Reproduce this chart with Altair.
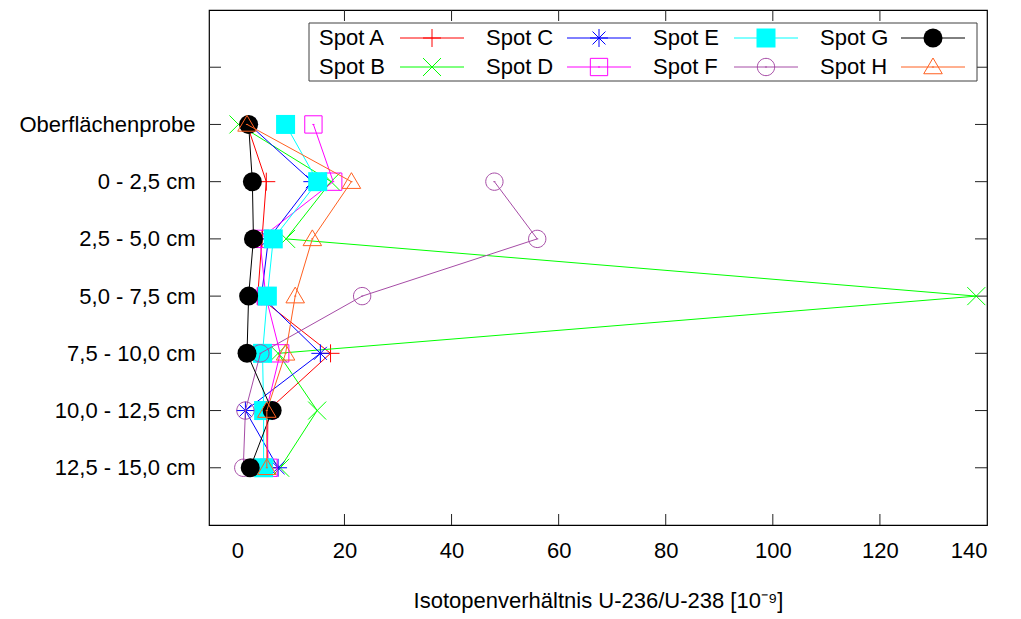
import json

import altair as alt
import pandas as pd

# Sampling depths, top to bottom
depths = [
    "Oberflächenprobe",
    "0 - 2,5 cm",
    "2,5 - 5,0 cm",
    "5,0 - 7,5 cm",
    "7,5 - 10,0 cm",
    "10,0 - 12,5 cm",
    "12,5 - 15,0 cm",
]

spot_names = ["Spot A", "Spot B", "Spot C", "Spot D", "Spot E", "Spot F", "Spot G", "Spot H"]

# U-236/U-238 ratio [1e-9] per depth (None = no sample)
spot_a = [1.8, 5.4, 4.6, 3.8, 17.4, 5.7, 5.6]
spot_b = [0.2, 17.5, 9.1, 138.0, 7.6, 14.9, 8.0]
spot_c = [2.2, 14.0, 5.8, 4.5, 15.5, 1.5, 7.6]
spot_d = [14.2, 17.9, 4.2, 5.3, 8.0, 5.4, 5.8]
spot_e = [9.0, 15.0, 6.7, 5.6, 4.7, 4.9, 4.9]
spot_f = [None, 48.0, 56.0, 23.3, 4.3, 1.5, 1.1]
spot_g = [2.1, 2.8, 3.0, 2.1, 1.8, 6.5, 2.4]
spot_h = [1.8, 21.3, 14.0, 10.8, 9.0, 5.5, 5.5]

x_labels = [0, 20, 40, 60, 80, 100, 120, 140]
x_minor = [20, 40, 60, 80, 100, 120]
y_ticks = [1, 2, 3, 4, 5, 6, 7, 8]

series = [spot_a, spot_b, spot_c, spot_d, spot_e, spot_f, spot_g, spot_h]

rows = []
n = len(depths)
for name, vals in zip(spot_names, series):
    for i, (d, v) in enumerate(zip(depths, vals)):
        if v is None:
            continue
        rows.append({"spot": name, "tiefe": d, "idx": i, "pos": n - i, "wert": v})
df = pd.DataFrame(rows)

# point styles (SVG paths are in unit coordinates)
PLUS = "M-1,0L1,0M0,-1L0,1"
CROSS = "M-1,-1L1,1M-1,1L1,-1"
STAR = "M-1,0L1,0M0,-1L0,1M-0.72,-0.72L0.72,0.72M-0.72,0.72L0.72,-0.72"
BOX_DOT = "M-1,-1L1,-1L1,1L-1,1Z M-0.12,0L0.12,0"
CIRC_DOT = "M1,0A1,1,0,1,1,-1,0A1,1,0,1,1,1,0Z M-0.12,0L0.12,0"
TRI_DOT = "M0,-1L1.03,0.75L-1.03,0.75Z M-0.12,0L0.12,0"

styles = {
    "Spot A": ("#ff0000", PLUS, False, 324),
    "Spot B": ("#00ff00", CROSS, False, 324),
    "Spot C": ("#0000ff", STAR, False, 324),
    "Spot D": ("#ff00ff", BOX_DOT, False, 300),
    "Spot E": ("#00ffff", "square", True, 361),
    "Spot F": ("#a64ca6", CIRC_DOT, False, 300),
    "Spot G": ("#000000", "circle", True, 361),
    "Spot H": ("#ff6020", TRI_DOT, False, 324),
}

FONT = "Liberation Sans"
FS = 22
W, H = 778, 515

labels_by_pos = [""] + depths[::-1] + ["", ""]
label_expr = json.dumps(labels_by_pos) + "[datum.value]"

x_scale = alt.Scale(domain=[-5.3, 140], nice=False, zero=False)
y_scale = alt.Scale(domain=[0, 9], nice=False, zero=False)

x_enc = alt.X(
    "wert:Q",
    scale=x_scale,
    axis=alt.Axis(
        values=x_labels, ticks=False, domain=False, grid=False,
        labelFontSize=FS, labelPadding=15, labelColor="black", labelFont=FONT,
        title="Isotopenverhältnis U-236/U-238 [10⁻⁹]",
        titleFontSize=FS, titleFontWeight="normal", titleFont=FONT,
        titleColor="black", titlePadding=29,
    ),
)
y_enc = alt.Y(
    "pos:Q",
    scale=y_scale,
    axis=alt.Axis(
        values=list(range(1, n + 1)), labelExpr=label_expr, ticks=False,
        domain=False, grid=False, labelFontSize=FS, labelPadding=14,
        labelColor="black", labelFont=FONT, title=None,
    ),
)

base = alt.Chart(df)
layers = []

# inside tick marks on all four sides
xt = pd.DataFrame({"wert": x_minor})
yt = pd.DataFrame({"pos": y_ticks})
tick_col = "#222222"
layers.append(alt.Chart(xt).mark_rule(color=tick_col, strokeWidth=1).encode(
    x=alt.X("wert:Q", scale=x_scale), y=alt.value(H), y2=alt.value(H - 11)))
layers.append(alt.Chart(xt).mark_rule(color=tick_col, strokeWidth=1).encode(
    x=alt.X("wert:Q", scale=x_scale), y=alt.value(0), y2=alt.value(11)))
layers.append(alt.Chart(yt).mark_rule(color=tick_col, strokeWidth=1).encode(
    y=alt.Y("pos:Q", scale=y_scale), x=alt.value(0), x2=alt.value(12)))
layers.append(alt.Chart(yt).mark_rule(color=tick_col, strokeWidth=1).encode(
    y=alt.Y("pos:Q", scale=y_scale), x=alt.value(W), x2=alt.value(W - 12)))

first = True
for name in spot_names:
    color, shape, filled, size = styles[name]
    sub = base.transform_filter(alt.datum.spot == name)
    xe = x_enc if first else alt.X("wert:Q", scale=x_scale)
    ye = y_enc if first else alt.Y("pos:Q", scale=y_scale)
    first = False
    layers.append(sub.mark_line(color=color, strokeWidth=1).encode(
        x=xe, y=ye, order=alt.Order("idx:Q")))
    layers.append(sub.mark_point(
        shape=shape, filled=filled, size=size, color=color,
        strokeWidth=1, opacity=1).encode(x=xe, y=ye))

# legend box
legend_df = pd.DataFrame({"spot": spot_names})
layers.append(alt.Chart(legend_df).transform_filter(alt.datum.spot == "Spot A").mark_rect(
    fill="white", stroke="#404040", strokeWidth=1).encode(
    x=alt.value(100), x2=alt.value(768), y=alt.value(13), y2=alt.value(71)))

for k, name in enumerate(spot_names):
    color, shape, filled, size = styles[name]
    col, row = k // 2, k % 2
    tx = 110 + col * 167
    ly = 28 + row * 29
    one = alt.Chart(legend_df).transform_filter(alt.datum.spot == name)
    layers.append(one.mark_text(
        align="left", baseline="middle", fontSize=FS, font=FONT, color="black").encode(
        x=alt.value(tx), y=alt.value(ly), text="spot:N"))
    layers.append(one.mark_rule(color=color, strokeWidth=1).encode(
        x=alt.value(tx + 81), x2=alt.value(tx + 145), y=alt.value(ly)))
    layers.append(one.mark_point(
        shape=shape, filled=filled, size=size, color=color,
        strokeWidth=1, opacity=1).encode(x=alt.value(tx + 113), y=alt.value(ly)))

chart = alt.layer(*layers).properties(
    width=W,
    height=H,
    autosize=alt.AutoSizeParams(type="none"),
    padding={"left": 209, "top": 10, "right": 1021 - 209 - W, "bottom": 619 - 10 - H},
    background="white",
).configure_view(stroke="black", strokeWidth=1.2)

chart.save("out.html", embed_options={"renderer": "svg", "actions": False})
